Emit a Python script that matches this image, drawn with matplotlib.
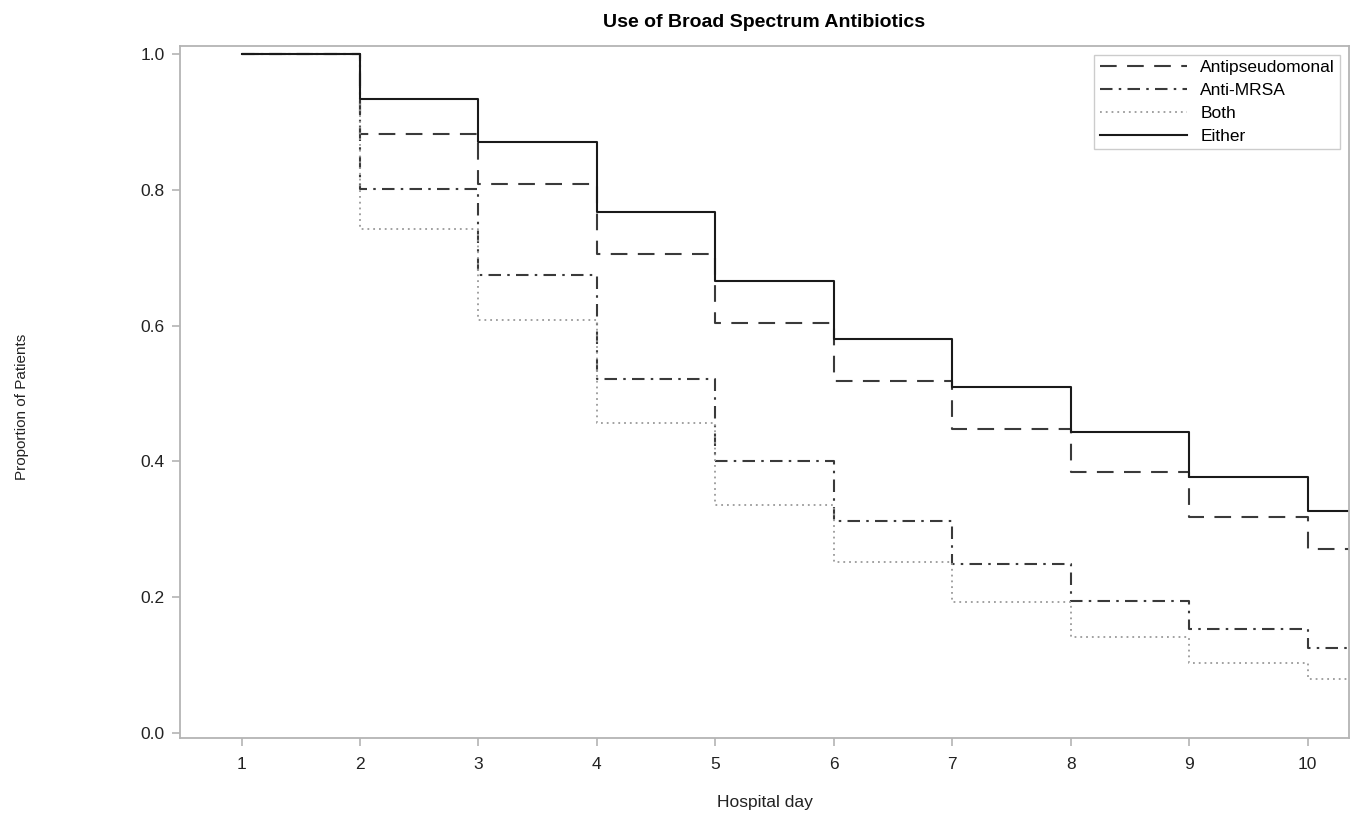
import matplotlib
matplotlib.use("Agg")
from matplotlib import pyplot as plt

plt.rcParams['font.family'] = ['Liberation Sans', 'DejaVu Sans']

days = [1, 2, 3, 4, 5, 6, 7, 8, 9, 10]
antipseudomonal = [1.0, 0.882, 0.808, 0.705, 0.604, 0.519, 0.448, 0.384, 0.318, 0.271]
anti_mrsa = [1.0, 0.801, 0.675, 0.521, 0.401, 0.312, 0.249, 0.194, 0.153, 0.125]
both = [1.0, 0.743, 0.609, 0.457, 0.336, 0.252, 0.193, 0.141, 0.103, 0.079]
either = [1.0, 0.934, 0.870, 0.767, 0.666, 0.580, 0.510, 0.443, 0.377, 0.327]

x_min, x_max = 0.48, 10.35


def steps(vals):
    # extend last step to the right edge of the plot
    return days + [x_max], vals + [vals[-1]]


fig = plt.figure(figsize=(13.55, 8.14), dpi=100)
ax = fig.add_axes([0.1328, 0.0934, 0.8628, 0.8501])

x, y = steps(antipseudomonal)
ax.plot(x, y, drawstyle='steps-post', color='#3a3a3a', lw=1.5,
        dashes=(8, 5), label='Antipseudomonal')
x, y = steps(anti_mrsa)
ax.plot(x, y, drawstyle='steps-post', color='#3a3a3a', lw=1.5,
        dashes=(6, 3, 1.2, 3), label='Anti-MRSA')
x, y = steps(both)
ax.plot(x, y, drawstyle='steps-post', color='#9a9a9a', lw=1.3,
        dashes=(1, 2.2), label='Both')
x, y = steps(either)
ax.plot(x, y, drawstyle='steps-post', color='#1a1a1a', lw=1.5,
        label='Either')

ax.set_xlim(x_min, x_max)
ax.set_ylim(-0.0074, 1.012)
ax.set_xticks(days)
ax.set_yticks([0.0, 0.2, 0.4, 0.6, 0.8, 1.0])
ax.set_yticklabels(['0.0', '0.2', '0.4', '0.6', '0.8', '1.0'])
for s in ax.spines.values():
    s.set_color('#b4b4b4')
    s.set_linewidth(1.3)
ax.tick_params(colors='#b4b4b4', labelcolor='#222222', labelsize=12.5, length=6, width=1.2)
ax.tick_params(axis='x', pad=8)
ax.tick_params(axis='y', pad=5)

ax.set_title('Use of Broad Spectrum Antibiotics', fontsize=14, fontweight='bold', pad=14)
ax.set_xlabel('Hospital day', fontsize=12.5, labelpad=16, color='#222222')
fig.text(0.016, 0.5, 'Proportion of Patients', rotation=90, va='center', ha='center',
         fontsize=11, color='#222222')

leg = ax.legend(loc='upper right', fontsize=12.5, fancybox=False, borderpad=0.3,
                labelspacing=0.45, handlelength=5, handletextpad=0.8,
                borderaxespad=0.5)
leg.get_frame().set_edgecolor('#c0c0c0')
leg.get_frame().set_linewidth(1.0)

plt.savefig('out.png')
